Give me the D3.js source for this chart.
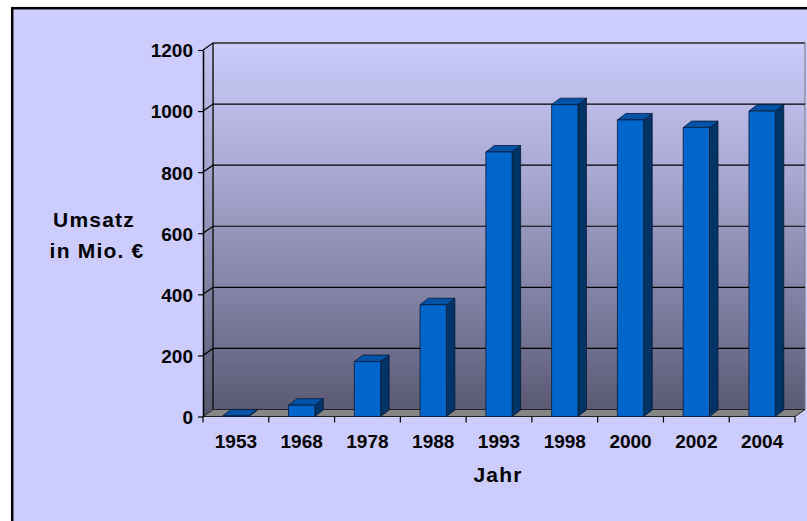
<!DOCTYPE html>
<html lang="de">

<head>
	<meta charset="utf-8">
	<title>Umsatz</title>
	<style>
		body { margin: 0; background: #fff; }
		svg { display: block; }
	</style>
</head>

<body>
	<script src="https://cdn.jsdelivr.net/npm/d3@7"></script>
	<script>

		// data
		const years = ["1953", "1968", "1978", "1988", "1993", "1998", "2000", "2002", "2004"];
		const umsatz = [2, 37, 180, 366, 866, 1021, 971, 946, 1000];
		const yTicks = [0, 200, 400, 600, 800, 1000, 1200];

		const width = 807, height = 521;
		const font = "'Liberation Sans', Arial, sans-serif";

		// 3d offsets: wall depth and bar depth
		const wx = 10, wy = -7;
		const bx = 8.5, by = -6.5;

		const x = d3.scaleBand()
			.domain(years)
			.range([203, 795])
			.paddingInner(0.6)
			.paddingOuter(0.3);

		const y = d3.scaleLinear()
			.domain([0, 1200])
			.range([416.5, 50]);

		const svg = d3.select("body")
			.append("svg")
			.attr("width", width)
			.attr("height", height);

		const defs = svg.append("defs");
		const grad = defs.append("linearGradient")
			.attr("id", "wall")
			.attr("x1", 0).attr("y1", 0).attr("x2", 0).attr("y2", 1);
		grad.append("stop").attr("offset", "0%").attr("stop-color", "#ccccfb");
		grad.append("stop").attr("offset", "35%").attr("stop-color", "#a9a9d2");
		grad.append("stop").attr("offset", "70%").attr("stop-color", "#8080a4");
		grad.append("stop").attr("offset", "100%").attr("stop-color", "#5a5a74");

		const sgrad = defs.append("linearGradient")
			.attr("id", "side")
			.attr("x1", 0).attr("y1", 0).attr("x2", 0).attr("y2", 1);
		sgrad.append("stop").attr("offset", "0%").attr("stop-color", "#c4c4f0");
		sgrad.append("stop").attr("offset", "35%").attr("stop-color", "#a2a2ca");
		sgrad.append("stop").attr("offset", "70%").attr("stop-color", "#7a7a9c");
		sgrad.append("stop").attr("offset", "100%").attr("stop-color", "#56566e");

		// outer frame
		svg.append("rect")
			.attr("x", 12.2)
			.attr("y", 8.2)
			.attr("width", width)
			.attr("height", height)
			.attr("fill", "#ccccff")
			.attr("stroke", "#000")
			.attr("stroke-width", 2.5);

		const x0 = x.range()[0], x1 = x.range()[1];
		const yTop = y(1200), yBot = y(0);

		// back wall
		svg.append("rect")
			.attr("x", x0 + wx)
			.attr("y", yTop + wy)
			.attr("width", x1 - x0)
			.attr("height", yBot - yTop)
			.attr("fill", "url(#wall)")
			.attr("stroke", "#777")
			.attr("stroke-width", 1);

		// side wall
		svg.append("path")
			.attr("d", `M${x0},${yTop} L${x0 + wx},${yTop + wy} L${x0 + wx},${yBot + wy} L${x0},${yBot} Z`)
			.attr("fill", "url(#side)");

		svg.append("line")
			.attr("x1", x0 + wx).attr("x2", x0 + wx)
			.attr("y1", yTop + wy).attr("y2", yBot + wy)
			.attr("stroke", "#000")
			.attr("stroke-width", 1.2);

		// gridlines
		const grid = svg.append("g")
			.attr("fill", "none")
			.attr("stroke", "#000")
			.attr("stroke-width", 1.2);

		grid.selectAll("path")
			.data(yTicks.filter((d) => d > 0))
			.join("path")
			.attr("d", (d) => {
				return `M${x0},${y(d)} L${x0 + wx},${y(d) + wy} H${x1 + wx}`;
			});

		// floor
		svg.append("path")
			.attr("d", `M${x0},${yBot} L${x1},${yBot} L${x1 + wx},${yBot + wy} L${x0 + wx},${yBot + wy} Z`)
			.attr("fill", "#858585")
			.attr("stroke", "#222")
			.attr("stroke-width", 1);

		// bars
		const bar = svg.append("g")
			.attr("stroke", "#0b1a33")
			.attr("stroke-width", 0.8)
			.attr("stroke-linejoin", "round")
			.selectAll("g")
			.data(years.map((d, i) => ({ year: d, value: umsatz[i] })))
			.join("g");

		const w = x.bandwidth();

		bar.append("path")
			.attr("fill", "#003366")
			.attr("d", (d) => {
				const l = x(d.year) + w, t = y(d.value);
				return `M${l},${t} L${l + bx},${t + by} L${l + bx},${yBot + by} L${l},${yBot} Z`;
			});

		bar.append("path")
			.attr("fill", "#0052a6")
			.attr("d", (d) => {
				const l = x(d.year), t = y(d.value);
				return `M${l},${t} L${l + w},${t} L${l + w + bx},${t + by} L${l + bx},${t + by} Z`;
			});

		bar.append("rect")
			.attr("fill", "#0066cc")
			.attr("x", (d) => x(d.year))
			.attr("y", (d) => y(d.value))
			.attr("width", w)
			.attr("height", (d) => yBot - y(d.value));

		// y axis
		const yAxis = svg.append("g")
			.attr("transform", `translate(${x0},0)`)
			.call(d3.axisLeft(y).tickValues(yTicks).tickFormat(d3.format("d"))
				.tickSize(5).tickSizeOuter(0).tickPadding(5));

		yAxis.select(".domain").attr("stroke", "#000").attr("stroke-width", 1.5);
		yAxis.selectAll(".tick line").attr("stroke", "#000").attr("stroke-width", 1.2);
		yAxis.selectAll(".tick text")
			.attr("font-family", font)
			.attr("font-size", 19)
			.attr("font-weight", "bold")
			.attr("fill", "#000")
			.attr("dy", "0.36em");

		// x axis labels
		const xAxis = svg.append("g")
			.attr("transform", `translate(0,${yBot})`)
			.call(d3.axisBottom(x).tickSize(0).tickPadding(18));

		xAxis.select(".domain").remove();
		xAxis.selectAll(".tick text")
			.attr("font-family", font)
			.attr("font-size", 19)
			.attr("font-weight", "bold")
			.attr("fill", "#000");

		// x ticks sit on the category borders
		svg.append("g")
			.attr("stroke", "#000")
			.attr("stroke-width", 1.2)
			.selectAll("line")
			.data(d3.range(years.length + 1))
			.join("line")
			.attr("x1", (i) => x0 + i * x.step())
			.attr("x2", (i) => x0 + i * x.step())
			.attr("y1", yBot)
			.attr("y2", yBot + 6);

		// axis titles
		const title = svg.append("g")
			.attr("font-family", font)
			.attr("font-size", 21)
			.attr("font-weight", "bold")
			.attr("letter-spacing", 1.2)
			.attr("text-anchor", "middle");

		title.append("text").attr("x", 94).attr("y", 227).text("Umsatz");
		title.append("text").attr("x", 97).attr("y", 258).text("in Mio. €");
		title.append("text").attr("x", 498).attr("y", 482).text("Jahr");

	</script>
</body>

</html>
